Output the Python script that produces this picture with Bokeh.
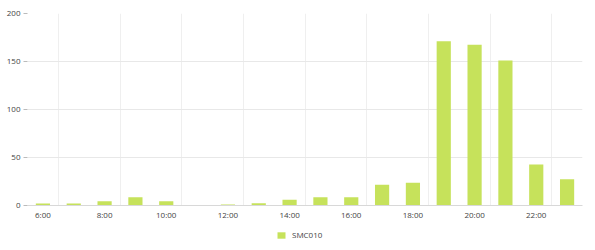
from bokeh.plotting import figure
from bokeh.layouts import column
from bokeh.models import ColumnDataSource, FixedTicker, Legend, LegendItem
from bokeh.embed import file_html
from bokeh.resources import INLINE

hours = [6, 7, 8, 9, 10, 11, 12, 13, 14, 15, 16, 17, 18, 19, 20, 21, 22, 23]
values = [2, 2, 4.5, 8.7, 4.5, 0, 1, 2.4, 6, 8.7, 8.7, 21.5, 23.6, 171, 167.5, 151, 42.7, 27.4]
tick_hours = [6, 8, 10, 12, 14, 16, 18, 20, 22]
tick_labels = {h: f"{h}:00" for h in tick_hours}
y_ticks = [0, 50, 100, 150, 200]
series_name = "SMC010"

BAR_COLOR = "#c6e25b"
font = "Open Sans"

src = ColumnDataSource(dict(x=hours, top=values))

p = figure(width=595, height=222, output_backend="svg", toolbar_location=None,
           x_range=(5.5, 23.5), y_range=(0, 200),
           min_border_left=27, min_border_right=13, min_border_top=13, min_border_bottom=17)
p.outline_line_color = None
p.background_fill_color = "white"

r = p.vbar(x="x", top="top", width=0.46, bottom=0, source=src,
           fill_color=BAR_COLOR, line_color=None)

p.xaxis.ticker = FixedTicker(ticks=tick_hours)
p.xaxis.major_label_overrides = tick_labels
p.xaxis.major_tick_line_color = None
p.xaxis.major_tick_out = 0
p.xaxis.major_tick_in = 0
p.xaxis.minor_tick_line_color = None
p.xaxis.minor_tick_out = 0
p.xaxis.axis_line_color = "#d8d8d8"
p.xaxis.major_label_text_font = font
p.xaxis.major_label_text_font_size = "8px"
p.xaxis.major_label_text_color = "#444444"
p.xaxis.major_label_standoff = 3

p.yaxis.ticker = FixedTicker(ticks=y_ticks)
p.yaxis.axis_line_color = None
p.yaxis.major_tick_line_color = "#bbbbbb"
p.yaxis.major_tick_out = 4
p.yaxis.major_tick_in = 0
p.yaxis.minor_tick_line_color = None
p.yaxis.major_label_text_font = font
p.yaxis.major_label_text_font_size = "8px"
p.yaxis.major_label_text_color = "#444444"
p.yaxis.major_label_standoff = 3

p.ygrid.grid_line_color = "#e8e8e8"
p.xgrid.ticker = FixedTicker(ticks=[5.5, 6.5, 8.5, 10.5, 12.5, 14.5, 16.5, 18.5, 20.5, 22.5])
p.xgrid.grid_line_color = "#efefef"

# legend strip below the chart
lf = figure(width=595, height=28, output_backend="svg", toolbar_location=None,
            x_range=(5.5, 23.5), y_range=(1000, 1001),
            x_axis_type=None, y_axis_type=None,
            min_border_left=0, min_border_right=0, min_border_top=0, min_border_bottom=0)
lf.outline_line_color = None
lf.xgrid.visible = False
lf.ygrid.visible = False
lr = lf.vbar(x="x", top="top", width=0.46, bottom=0, source=src,
             fill_color=BAR_COLOR, line_color=None)
legend = Legend(items=[LegendItem(label=series_name, renderers=[lr])],
                location=(249, 10), orientation="horizontal",
                label_text_font=font, label_text_font_size="8px", label_text_color="#444444",
                glyph_width=10, glyph_height=8, label_height=8,
                border_line_color=None, background_fill_alpha=0,
                padding=0, margin=0, label_standoff=6)
lf.add_layout(legend, "center")

layout = column(p, lf, spacing=0)
open("out.html", "w").write(file_html(layout, INLINE))
